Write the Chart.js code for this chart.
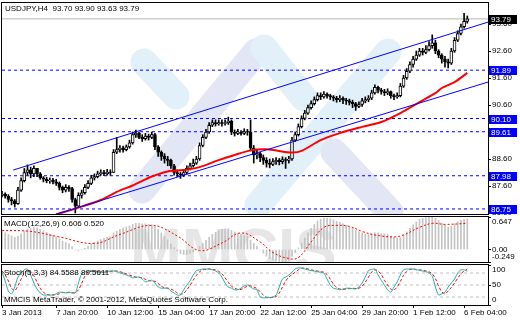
<!DOCTYPE html>
<html>
<head>
<meta charset="utf-8">
<script src="https://cdn.jsdelivr.net/npm/chart.js@4/dist/chart.umd.min.js"></script>
<style>
body { margin: 0; background: #fff; width: 520px; height: 320px; overflow: hidden; position: relative; }
canvas { position: absolute; left: 0; top: 0; }
</style>
</head>
<body>
<canvas id="priceChart" width="520" height="320"></canvas>
<canvas id="macdChart" width="520" height="320"></canvas>
<canvas id="stochChart" width="520" height="320"></canvas>
<script>
// USDJPY H4 bars, index 0 = 3 Jan 2013 00:00
const opens = [87.25,87.30,87.22,87.10,87.05,86.95,87.45,87.80,88.10,88.20,
	88.05,88.25,88.05,87.90,87.85,87.80,87.82,87.75,87.70,87.55,
	87.45,87.55,87.50,87.10,86.85,87.25,87.35,87.55,87.70,87.90,
	87.95,88.05,88.10,88.05,88.12,88.10,88.85,88.95,89.00,88.95,
	89.05,89.20,89.50,89.55,89.40,89.35,89.45,89.40,89.50,89.05,
	88.85,88.70,88.60,88.55,88.35,88.10,88.05,88.00,88.10,88.25,
	88.35,88.45,88.60,89.10,89.40,89.60,89.85,89.95,89.90,89.95,
	89.92,89.95,90.00,89.60,89.55,89.60,89.55,89.62,89.60,89.00,
	88.75,88.80,88.65,88.55,88.45,88.40,88.50,88.55,88.50,88.58,
	88.55,88.60,89.30,89.50,89.80,90.10,90.30,90.50,90.65,90.80,
	90.95,90.90,91.00,90.95,90.90,90.85,90.80,90.85,90.78,90.75,
	90.70,90.65,90.55,90.62,90.75,90.80,90.85,91.05,91.25,91.15,
	91.10,91.05,91.10,90.95,90.90,90.95,91.30,91.60,91.85,92.10,
	92.30,92.45,92.60,92.55,92.65,92.80,92.90,92.60,92.45,92.30,
	92.20,92.15,92.60,93.00,93.25,93.50,93.70];
const highs = [87.40,87.35,87.28,87.18,87.10,87.55,87.90,88.25,88.38,88.30,
	88.35,88.20,88.10,87.95,87.92,87.90,87.88,87.85,87.75,87.60,
	87.65,87.62,87.55,87.15,87.35,87.45,87.65,87.80,88.00,88.05,
	88.15,88.20,88.18,88.22,88.20,88.95,89.40,89.10,89.08,89.12,
	89.30,89.60,89.67,89.60,89.50,89.55,89.52,89.60,89.55,89.10,
	88.90,88.80,88.70,88.60,88.40,88.20,88.10,88.20,88.35,88.45,
	88.60,88.70,89.20,89.50,89.70,89.95,90.05,90.05,90.05,90.05,
	90.05,90.15,90.05,89.68,89.70,89.65,89.72,89.70,90.05,89.10,
	88.95,88.85,88.75,88.65,88.60,88.62,88.65,88.62,88.68,88.65,
	88.70,89.40,89.60,89.90,90.20,90.40,90.60,90.75,90.90,91.05,
	91.05,91.10,91.05,91.00,90.95,90.92,90.95,90.90,90.85,90.82,
	90.78,90.70,90.72,90.85,90.90,90.95,91.15,91.35,91.30,91.22,
	91.18,91.20,91.12,91.00,91.05,91.40,91.70,91.95,92.20,92.40,
	92.60,92.70,92.70,92.80,92.95,93.20,93.00,92.65,92.50,92.40,
	92.30,92.70,93.10,93.35,93.60,94.00,93.90];
const lows = [87.20,87.15,87.00,86.90,86.82,86.92,87.40,87.75,88.00,87.90,
	87.95,87.95,87.85,87.75,87.72,87.70,87.68,87.62,87.45,87.35,
	87.38,87.40,87.00,86.60,86.80,87.15,87.30,87.50,87.65,87.82,
	87.90,88.00,87.98,88.00,88.00,88.10,88.80,88.85,88.85,88.90,
	89.00,89.15,89.40,89.35,89.25,89.30,89.30,89.35,88.95,88.70,
	88.55,88.45,88.35,88.25,88.00,87.95,87.88,87.95,88.05,88.20,
	88.30,88.40,88.55,89.05,89.35,89.55,89.80,89.82,89.85,89.82,
	89.85,89.88,89.50,89.45,89.50,89.48,89.50,89.48,88.90,88.45,
	88.60,88.50,88.40,88.30,88.27,88.35,88.40,88.38,88.42,88.25,
	88.45,88.55,89.25,89.45,89.75,90.05,90.25,90.45,90.60,90.75,
	90.80,90.85,90.85,90.80,90.75,90.70,90.72,90.65,90.62,90.60,
	90.50,90.40,90.50,90.55,90.68,90.72,90.80,91.00,91.05,91.00,
	90.95,90.98,90.85,90.80,90.85,90.90,91.25,91.55,91.80,92.00,
	92.25,92.40,92.45,92.50,92.60,92.70,92.50,92.35,92.15,92.00,
	91.97,92.10,92.55,92.95,93.20,93.45,93.63];
const closes = [87.30,87.22,87.10,87.05,86.95,87.45,87.80,88.10,88.20,88.05,
	88.25,88.05,87.90,87.85,87.80,87.82,87.75,87.70,87.55,87.45,
	87.55,87.50,87.10,86.85,87.25,87.35,87.55,87.70,87.90,87.95,
	88.05,88.10,88.05,88.12,88.10,88.85,88.95,89.00,88.95,89.05,
	89.20,89.50,89.55,89.40,89.35,89.45,89.40,89.50,89.05,88.85,
	88.70,88.60,88.55,88.35,88.10,88.05,88.00,88.10,88.25,88.35,
	88.45,88.60,89.10,89.40,89.60,89.85,89.95,89.90,89.95,89.92,
	89.95,90.00,89.60,89.55,89.60,89.55,89.62,89.60,89.00,88.75,
	88.80,88.65,88.55,88.45,88.40,88.50,88.55,88.50,88.58,88.55,
	88.60,89.30,89.50,89.80,90.10,90.30,90.50,90.65,90.80,90.95,
	90.90,91.00,90.95,90.90,90.85,90.80,90.85,90.78,90.75,90.70,
	90.65,90.55,90.62,90.75,90.80,90.85,91.05,91.25,91.15,91.10,
	91.05,91.10,90.95,90.90,90.95,91.30,91.60,91.85,92.10,92.30,
	92.45,92.60,92.55,92.65,92.80,92.90,92.60,92.45,92.30,92.20,
	92.15,92.60,93.00,93.25,93.50,93.70,93.79];

const priceTicks = [86.60, 87.60, 88.60, 89.60, 90.60, 91.60, 92.60, 93.60];
const levelLines = [91.89, 90.10, 89.61, 87.98, 86.75];
const lastPrice = 93.79;

// moving average (red), read at a few bars
const maIdx = [17, 24, 31, 36, 41, 47, 52, 57, 62, 68, 73, 78, 83, 91, 94, 100, 106, 113, 119, 125, 131, 136, 138, 142, 146];
const maVals = [86.55, 86.80, 87.08, 87.38, 87.62, 87.95, 88.14, 88.19, 88.30, 88.56, 88.75, 88.92, 88.96, 88.84, 88.90, 89.30, 89.56, 89.79, 89.97, 90.30, 90.71, 91.04, 91.23, 91.45, 91.79];

// channel trend lines
const upperIdx = [3.5, 152.5];
const upperVals = [88.19, 93.67];
const lowerIdx = [16.3, 152.5];
const lowerVals = [86.53, 91.45];

// MACD(12,26,9)
const macdMain = [0.36,0.33,0.30,0.27,0.24,0.26,0.31,0.37,0.41,0.42,
	0.44,0.43,0.40,0.37,0.34,0.31,0.28,0.25,0.21,0.17,
	0.14,0.12,0.06,-0.01,-0.02,0.00,0.03,0.07,0.11,0.14,
	0.17,0.20,0.22,0.24,0.25,0.33,0.36,0.40,0.43,0.45,
	0.47,0.50,0.52,0.52,0.51,0.51,0.50,0.49,0.45,0.40,
	0.33,0.26,0.19,0.11,0.04,-0.03,-0.08,-0.10,-0.10,-0.08,
	-0.05,0.00,0.06,0.12,0.18,0.24,0.30,0.34,0.38,0.40,
	0.41,0.41,0.38,0.35,0.32,0.30,0.28,0.26,0.19,0.12,
	0.06,-0.01,-0.07,-0.13,-0.18,-0.21,-0.23,-0.24,-0.249,-0.24,
	-0.22,-0.14,-0.06,0.03,0.13,0.23,0.33,0.42,0.50,0.57,
	0.60,0.62,0.62,0.61,0.59,0.56,0.54,0.51,0.48,0.45,
	0.42,0.38,0.35,0.33,0.31,0.30,0.31,0.33,0.33,0.32,
	0.31,0.30,0.27,0.24,0.22,0.24,0.29,0.35,0.42,0.49,
	0.55,0.60,0.62,0.63,0.64,0.647,0.62,0.58,0.53,0.48,
	0.44,0.46,0.51,0.55,0.58,0.60,0.606];
const macdSigIdx = [0, 9, 18, 29, 37, 47, 55, 62, 69, 75, 81, 85, 90, 93, 97, 101, 105, 109, 113, 117, 123, 126, 131, 135, 139, 146];
const macdSigVals = [0.38, 0.36, 0.25, 0.12, 0.30, 0.48, 0.27, -0.02, 0.13, 0.33, 0.15, -0.06, -0.18, -0.16, 0.15, 0.44, 0.48, 0.46, 0.36, 0.29, 0.25, 0.29, 0.44, 0.52, 0.50, 0.52];
const macdTicks = [-0.249, 0, 0.647];

// Stochastic(5,3,3)
const stochMain = [82,60,35,28,45,70,80,88,90,75,
	55,40,30,25,25,25,25,28,32,32,
	30,32,30,30,55,78,82,85,86,84,
	82,82,82,84,85,85,84,80,78,75,
	72,68,69,70,65,58,60,62,55,45,
	42,42,42,35,30,25,25,38,50,60,
	75,86,88,90,90,90,88,85,80,70,
	55,45,42,38,38,42,48,50,45,40,
	38,20,18,18,19,20,25,45,65,70,
	75,82,90,93,92,90,88,86,85,83,
	82,80,65,50,42,40,38,40,42,42,
	41,40,45,55,70,86,89,90,75,62,
	50,38,32,45,58,75,88,90,90,90,
	88,87,85,83,80,72,45,25,28,32,
	45,55,65,80,88,88,84.56];
const stochSignal = [85,75,60,42,36,48,65,80,86,84,
	73,57,42,32,27,25,25,26,28,31,
	31,31,31,31,38,54,72,82,84,85,
	84,83,82,83,84,85,85,83,81,78,
	75,72,70,69,68,64,61,60,59,54,
	47,43,42,40,36,30,27,29,38,49,
	62,74,83,88,89,90,89,88,84,78,
	68,57,47,42,39,39,43,47,48,45,
	41,33,25,19,18,19,21,30,45,60,
	70,76,82,88,92,92,90,88,86,85,
	83,82,76,65,52,44,40,39,40,41,
	42,41,42,47,57,70,82,88,85,76,
	62,50,40,38,45,59,74,84,89,90,
	89,88,87,85,83,78,66,47,33,28,
	35,44,55,67,78,85,89.56];
const stochLevels = [20, 50, 80];
const stochTicks = [0, 20, 50, 80, 100];

const timeTickIdx = [0, 17, 33, 49, 65, 81, 97, 113, 129, 145];
const timeTickLabels = ['3 Jan 2013', '7 Jan 20:00', '10 Jan 12:00', '15 Jan 04:00', '17 Jan 20:00',
	'22 Jan 12:00', '25 Jan 04:00', '29 Jan 20:00', '1 Feb 12:00', '6 Feb 04:00'];

const X_MIN = 0, X_MAX = 152.5;
const FONT = "'Liberation Sans', Arial, sans-serif";
const tickFont = {family: FONT, size: 8};

Chart.defaults.font.family = FONT;
Chart.defaults.font.size = 8;
Chart.defaults.color = '#000';

// frame around each panel
const framePlugin = {
	id: 'frame',
	afterDraw(chart) {
		const a = chart.chartArea, c = chart.ctx;
		c.save();
		c.strokeStyle = '#000';
		c.lineWidth = 1;
		c.strokeRect(Math.round(a.left) - 0.5, Math.round(a.top) - 0.5, Math.round(a.right - a.left) + 1, Math.round(a.bottom - a.top) + 1);
		c.restore();
	}
};

// plain texts (indicator names, copyright)
const textPlugin = {
	id: 'texts',
	afterDraw(chart, args, opts) {
		const c = chart.ctx;
		c.save();
		c.font = '8px ' + FONT;
		c.fillStyle = '#000';
		c.textBaseline = 'middle';
		(opts.items || []).forEach(t => c.fillText(t.text, t.x, t.y));
		c.restore();
	}
};

// indicator window labels: MT4 keeps the min / max labels inside the window
const sideLabelPlugin = {
	id: 'sideLabels',
	afterDraw(chart) {
		const s = chart.scales.y, c = chart.ctx;
		c.save();
		c.font = '8px ' + FONT;
		c.fillStyle = '#000';
		c.textBaseline = 'middle';
		s.ticks.forEach(t => {
			let py = s.getPixelForValue(t.value);
			if (t.value === s.max) py += 5;
			else if (t.value === s.min) py -= 5;
			c.fillText(t.label, s.left + 4, py);
		});
		c.restore();
	}
};

// faint broker logo behind the data
const watermarkPlugin = {
	id: 'watermark',
	beforeDatasetsDraw(chart, args, opts) {
		const a = chart.chartArea, c = chart.ctx;
		c.save();
		c.beginPath();
		c.rect(a.left, a.top, a.right - a.left, a.bottom - a.top);
		c.clip();
		if (opts.kind === 'bands') {
			c.lineCap = 'round';
			c.lineWidth = 27;
			[
				['#e2f1f9', 144, 62, 176, 96],
				['#e3e6f4', 142, 190, 256, 52],
				['#e2f1f9', 264, 48, 304, 98],
				['#e2f1f9', 258, 205, 388, 52],
				['#e3e6f4', 334, 152, 390, 212]
			].forEach(b => {
				c.strokeStyle = b[0];
				c.beginPath();
				c.moveTo(b[1], b[2]);
				c.lineTo(b[3], b[4]);
				c.stroke();
			});
		} else if (opts.kind === 'text') {
			c.fillStyle = '#e6e6e6';
			c.font = 'bold 62px ' + FONT;
			c.textBaseline = 'alphabetic';
			c.fillText('MMCIS', 130, 271, 265);
		}
		c.restore();
	}
};

// price boxes on the right axis
const boxPlugin = {
	id: 'boxes',
	afterDraw(chart) {
		const c = chart.ctx, y = chart.scales.y;
		const items = levelLines.map(v => ({v: v, bg: '#0000ff'}));
		items.push({v: lastPrice, bg: '#000000'});
		c.save();
		c.font = '8px ' + FONT;
		c.textBaseline = 'middle';
		items.forEach(it => {
			const py = Math.round(y.getPixelForValue(it.v));
			c.fillStyle = it.bg;
			c.fillRect(489, py - 4, 28, 9);
			c.fillStyle = '#fff';
			c.fillText(it.v.toFixed(2), 491, py + 0.5);
		});
		c.restore();
	}
};

function xScale(show) {
	return {
		type: 'linear', min: X_MIN, max: X_MAX, offset: false, display: show,
		grid: {display: show, offset: false, drawOnChartArea: false, drawTicks: true, tickLength: 3, color: '#000'},
		border: {display: false},
		afterBuildTicks: s => { s.ticks = timeTickIdx.map(v => ({value: v})); },
		ticks: {autoSkip: false, maxRotation: 0, minRotation: 0, align: 'start', padding: 0, font: tickFont, color: '#000',
			callback: (v, i) => timeTickLabels[i]},
		afterFit: s => { s.height = show ? 15 : 0; s.paddingLeft = 0; s.paddingRight = 0; }
	};
}

function yScale(min, max, ticks, fmt, hideLabels) {
	return {
		position: 'right', min: min, max: max,
		grid: {drawOnChartArea: false, drawTicks: true, tickLength: 3, color: '#000'},
		border: {display: false},
		afterBuildTicks: s => { s.ticks = ticks.map(v => ({value: v})); },
		ticks: {font: tickFont, color: hideLabels ? 'rgba(0,0,0,0)' : '#000', padding: 1, callback: fmt},
		afterFit: s => { s.width = 32; s.paddingTop = 0; s.paddingBottom = 0; }
	};
}

function flatLine(v, color, dash) {
	return {type: 'line', data: [{x: X_MIN, y: v}, {x: X_MAX, y: v}], borderColor: color, borderWidth: 1,
		borderDash: dash, pointRadius: 0, order: 10};
}

function pts(idx, vals) {
	return idx.map((x, i) => ({x: x, y: vals[i]}));
}

function baseOptions(padding, scales, texts, mark) {
	return {
		responsive: false, animation: false, devicePixelRatio: 1, events: [],
		layout: {padding: padding},
		scales: scales,
		plugins: {legend: {display: false}, tooltip: {enabled: false}, texts: {items: texts}, watermark: {kind: mark}}
	};
}

function buildPrice() {
	ctx = document.getElementById('priceChart');
	const datasets = levelLines.map(v => flatLine(v, '#0000ff', [3, 3]));
	datasets.push(flatLine(lastPrice, '#b4b4b4', []));
	datasets.push({
		type: 'bar', grouped: false, order: 4, barThickness: 1, backgroundColor: '#000',
		data: opens.map((o, i) => ({x: i, y: [lows[i], highs[i]]}))
	});
	datasets.push({
		type: 'bar', grouped: false, order: 3, barThickness: 3, borderWidth: 1, borderSkipped: false,
		borderColor: '#000',
		backgroundColor: opens.map((o, i) => closes[i] >= o ? '#fff' : '#000'),
		data: opens.map((o, i) => ({x: i, y: [o, closes[i]]}))
	});
	datasets.push({type: 'line', data: pts(maIdx, maVals), borderColor: '#ff0000', borderWidth: 2,
		pointRadius: 0, tension: 0.3, order: 2});
	datasets.push({type: 'line', data: pts(upperIdx, upperVals), borderColor: '#0000ff', borderWidth: 1, pointRadius: 0, order: 1});
	datasets.push({type: 'line', data: pts(lowerIdx, lowerVals), borderColor: '#0000ff', borderWidth: 1, pointRadius: 0, order: 1});
	chart = new Chart(ctx, {
		type: 'line',
		data: {datasets: datasets},
		options: baseOptions({left: 2, top: 3, bottom: 106, right: 0}, {
			x: xScale(false),
			y: yScale(86.563, 94.378, priceTicks, v => v.toFixed(2), false)
		}, [{text: 'USDJPY,H4  93.70 93.90 93.63 93.79', x: 5, y: 9}], 'bands'),
		plugins: [watermarkPlugin, framePlugin, textPlugin, boxPlugin]
	});
	return chart;
}

function buildMacd() {
	ctx = document.getElementById('macdChart');
	chart = new Chart(ctx, {
		type: 'line',
		data: {datasets: [
			{type: 'bar', grouped: false, order: 3, barThickness: 1, backgroundColor: '#c4c4c4',
				data: macdMain.map((v, i) => ({x: i, y: v}))},
			{type: 'line', data: pts(macdSigIdx, macdSigVals), borderColor: '#ff0000', borderWidth: 1,
				borderDash: [2, 2], pointRadius: 0, tension: 0.4, order: 1}
		]},
		options: baseOptions({left: 2, top: 217, bottom: 58, right: 0}, {
			x: xScale(false),
			y: yScale(-0.249, 0.647, macdTicks, v => v === 0 ? '0.00' : String(v), true)
		}, [{text: 'MACD(12,26,9) 0.606 0.520', x: 4, y: 224}], 'text'),
		plugins: [watermarkPlugin, framePlugin, textPlugin, sideLabelPlugin]
	});
	return chart;
}

function buildStoch() {
	ctx = document.getElementById('stochChart');
	const datasets = stochLevels.map(v => flatLine(v, '#c0c0c0', [3, 3]));
	datasets.push({type: 'line', data: stochSignal.map((v, i) => ({x: i, y: v})), borderColor: '#ff0000',
		borderWidth: 1, borderDash: [3, 2], pointRadius: 0, tension: 0.3, order: 2});
	datasets.push({type: 'line', data: stochMain.map((v, i) => ({x: i, y: v})), borderColor: '#20b2aa',
		borderWidth: 1, pointRadius: 0, tension: 0.3, order: 1});
	chart = new Chart(ctx, {
		type: 'line',
		data: {datasets: datasets},
		options: baseOptions({left: 2, top: 265, bottom: 0, right: 0}, {
			x: xScale(true),
			y: yScale(0, 100, stochTicks, v => String(v), true)
		}, [{text: 'Stoch(5,3,3) 84.5588 89.5611', x: 4, y: 273},
			{text: 'MMCIS MetaTrader, \u00a9 2001-2012, MetaQuotes Software Corp.', x: 4, y: 300}], 'none'),
		plugins: [framePlugin, textPlugin, sideLabelPlugin]
	});
	return chart;
}

function buildItAll() {
	window.priceChart = buildPrice();
	window.macdChart = buildMacd();
	window.stochChart = buildStoch();
}
buildItAll();
</script>
</body>
</html>
